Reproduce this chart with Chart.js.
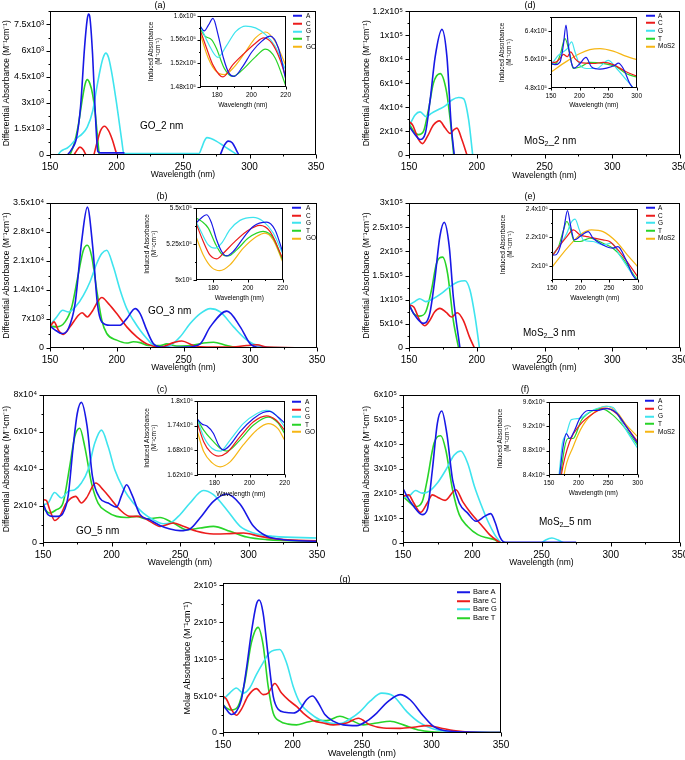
<!DOCTYPE html>
<html>
<head>
<meta charset="utf-8">
<script src="https://cdn.jsdelivr.net/npm/chart.js@4.4.1/dist/chart.umd.min.js"></script>
<style>
  html, body { margin: 0; padding: 0; width: 685px; height: 760px; overflow: hidden; background: #fff;
    font-family: "Liberation Sans", Arial, sans-serif; color: #000; }
  canvas { position: absolute; }
  .ttl { position: absolute; font-size: 9px; transform: translate(-50%, -50%); white-space: nowrap; }
  .smp { position: absolute; font-size: 10px; transform: translateY(-50%); white-space: nowrap; }
  .smp sub { font-size: 7px; vertical-align: -2px; }
  .lg { position: absolute; white-space: nowrap; line-height: 1; transform: translateY(-50%); }
  .lg i { display: inline-block; height: 2px; vertical-align: middle; }
</style>
</head>
<body>
<script>
// ---- series names / colours ----
const goNames = ['A', 'C', 'G', 'T', 'GO'];
const mosNames = ['A', 'C', 'G', 'T', 'MoS2'];
const bareNames = ['Bare A', 'Bare C', 'Bare G', 'Bare T'];
const BLUE = '#1818e6', RED = '#ec1c1c', CYAN = '#3ee4ee', GREEN = '#28d428', GOLD = '#f6b614';
const colors = [BLUE, RED, CYAN, GREEN, GOLD];

// ---- tick labels ----
const xMain = [150, 200, 250, 300, 350];
const xMainLabels = ['150', '200', '250', '300', '350'];
const xGoInset = [180, 200, 220];
const xGoInsetLabels = ['180', '200', '220'];
const xMosInset = [150, 200, 250, 300];
const xMosInsetLabels = ['150', '200', '250', '300'];

const aY = [0, 1.5, 3, 4.5, 6, 7.5];
const aYLabels = ['0', '1.5x10³', '3x10³', '4.5x10³', '6x10³', '7.5x10³'];
const bY = [0, 7, 14, 21, 28, 35];
const bYLabels = ['0', '7x10³', '1.4x10⁴', '2.1x10⁴', '2.8x10⁴', '3.5x10⁴'];
const cY = [0, 2, 4, 6, 8];
const cYLabels = ['0', '2x10⁴', '4x10⁴', '6x10⁴', '8x10⁴'];
const dY = [0, 2, 4, 6, 8, 10, 12];
const dYLabels = ['0', '2x10⁴', '4x10⁴', '6x10⁴', '8x10⁴', '1x10⁵', '1.2x10⁵'];
const eY = [0, 5, 10, 15, 20, 25, 30];
const eYLabels = ['0', '5x10⁴', '1x10⁵', '1.5x10⁵', '2x10⁵', '2.5x10⁵', '3x10⁵'];
const fY = [0, 10, 20, 30, 40, 50, 60];
const fYLabels = ['0', '1x10⁵', '2x10⁵', '3x10⁵', '4x10⁵', '5x10⁵', '6x10⁵'];
const gY = [0, 5, 10, 15, 20];
const gYLabels = ['0', '5x10⁴', '1x10⁵', '2x10⁵', '2x10⁵'];

const aiY = [1.48, 1.52, 1.56, 1.6];
const aiYLabels = ['1.48x10⁵', '1.52x10⁵', '1.56x10⁵', '1.6x10⁵'];
const biY = [5, 5.25, 5.5];
const biYLabels = ['5x10⁵', '5.25x10⁵', '5.5x10⁵'];
const ciY = [1.62, 1.68, 1.74, 1.8];
const ciYLabels = ['1.62x10⁶', '1.68x10⁶', '1.74x10⁶', '1.8x10⁶'];
const diY = [4.8, 5.6, 6.4];
const diYLabels = ['4.8x10⁵', '5.6x10⁵', '6.4x10⁵'];
const eiY = [2, 2.2, 2.4];
const eiYLabels = ['2x10⁶', '2.2x10⁶', '2.4x10⁶'];
const fiY = [8.4, 8.8, 9.2, 9.6];
const fiYLabels = ['8.4x10⁶', '8.8x10⁶', '9.2x10⁶', '9.6x10⁶'];

// ---- (a) GO_2 nm, [wavelength, value x10^3] ----
const aA = [[163,0],[166,0.3],[170,1.0],[173,2.8],[176,6.2],[178,7.8],[179,8.1],[180,7.9],[182,5.8],[184,2.5],[186,0.2],[188,0.12],[206,0.12],[207,null],[278,0],[281,0.55],[284,0.8],[287,0.7],[290,0.3],[292,0]];
const aC = [[168,0],[170,0.25],[172.5,0.45],[175,0.3],[177,0],[178,null],[183,0],[186,0.9],[188,1.4],[191,1.65],[194,1.4],[197,0.85],[200,0.1],[201,0]];
const aG = [[156,0],[158,0.2],[160,0.3],[163,0.4],[166,0.6],[170,0.95],[174,1.2],[178,1.6],[182,2.5],[185,3.8],[188,5.0],[190,5.6],[192,5.85],[194,5.6],[196,4.9],[198,4.0],[200,3.0],[202,1.9],[204,0.8],[205.5,0.08],[262,0.08],[264,0.4],[266,0.8],[268,1.0],[271,0.95],[275,0.8],[280,0.55],[285,0.3],[290,0.05],[291,0]];
const aT = [[165,0],[168,0.6],[171,1.6],[174.5,3.3],[176.5,4.1],[178,4.33],[180,4.1],[182,3.5],[184,2.4],[186,0.8],[187,0]];
// inset x10^5
const aiA = [[170,1.583],[172.5,1.575],[175,1.585],[177.6,1.596],[180.5,1.569],[183.7,1.529],[187,1.503],[190,1.498],[194.8,1.514],[200.5,1.540],[206.3,1.558],[211,1.566],[215.8,1.546],[220,1.494]];
const aiC = [[170,1.577],[173.8,1.546],[177.6,1.517],[183.4,1.497],[189,1.517],[194.8,1.534],[202.4,1.554],[207.2,1.563],[212,1.554],[216.8,1.526],[220,1.497]];
const aiG = [[170,1.585],[174.8,1.554],[180.5,1.530],[185.3,1.549],[191,1.574],[196.7,1.583],[202.4,1.580],[208.2,1.569],[213.9,1.549],[220,1.509]];
const aiT = [[170,1.579],[172.9,1.566],[176.7,1.560],[179.5,1.546],[184.3,1.511],[189,1.498],[194.8,1.509],[202.4,1.531],[208.2,1.544],[213.9,1.529],[220,1.483]];
const aiGO = [[170,1.571],[174.8,1.529],[178.6,1.509],[184.3,1.501],[190,1.514],[196.7,1.540],[202.4,1.563],[208.2,1.573],[213.9,1.557],[220,1.517]];

// ---- (b) GO_3 nm, x10^3 ----
const bA = [[150,5.3],[155,4.1],[158.8,3.5],[163.8,4.7],[168.8,10.7],[173.8,26],[178,34],[182,24.4],[185.5,10.7],[188.8,6.3],[195,5.5],[202.5,5.5],[207.5,7.1],[213.8,9.5],[217.5,8.3],[222.5,4.3],[227.5,1.0],[232.5,0.2],[242.5,0.1],[252.5,0.2],[262.5,1.0],[270,5.1],[282.5,8.9],[292.5,5.1],[300,1.0],[307.5,0.1],[350,0]];
const bC = [[150,5.1],[153,6.3],[156.3,4.3],[160,3.3],[165,5.1],[171.3,7.9],[174,8.5],[178,7.5],[181.3,8.7],[188.8,12.2],[193.8,10.7],[200,8.3],[207.5,5.1],[215,2.7],[222.5,1.0],[232.5,0.2],[242.5,1.3],[248.8,1.7],[257.5,0.6],[267.5,0.2],[282.5,0.2],[297.5,0.6],[305,0.8],[312.5,0.2],[350,0]];
const bG = [[150,5.5],[155,7.5],[159.5,9.1],[163.8,8.7],[170,10.3],[175,12.7],[180,16],[185,20.4],[188.8,22.8],[192.5,23.6],[197.5,19.6],[202.5,14],[207.5,9.5],[212.5,6.7],[217.5,4.3],[222.5,2.3],[227.5,0.6],[232.5,0.2],[240,0.6],[247.5,2.7],[255,5.9],[262.5,8.3],[270,9.5],[277.5,8.7],[287.5,5.1],[297.5,1.9],[307.5,0.4],[320,0.1],[350,0]];
const bT = [[150,5.3],[155,5.1],[161.3,6.3],[166.3,9.9],[171.3,18],[175,23.6],[178,24.8],[181.3,22],[185,14],[188.8,6.7],[192.5,3.5],[200,1.9],[207.5,1.2],[212.5,1.5],[217.5,1.3],[223.8,0.6],[232.5,0.6],[237.5,1.0],[245,0.5],[255,0.6],[265,1.2],[272.5,1.4],[282.5,0.6],[292.5,0.1],[350,0]];
// inset x10^5
const biA = [[170,5.395],[172.3,5.423],[176.2,5.453],[179,5.395],[181.9,5.279],[184.8,5.198],[187.7,5.167],[191.5,5.198],[197.3,5.291],[203,5.372],[210.8,5.402],[215.6,5.349],[220,5.198]];
const biC = [[170,5.395],[174.2,5.267],[178,5.174],[181.9,5.147],[185.8,5.186],[191.5,5.256],[199.2,5.337],[206.9,5.379],[212.7,5.337],[220,5.151]];
const biG = [[170,5.407],[173.3,5.326],[177.1,5.244],[181,5.221],[184.8,5.256],[189.6,5.349],[195.4,5.414],[203,5.435],[208.8,5.407],[214.6,5.326],[220,5.186]];
const biT = [[170,5.430],[173.3,5.407],[177.1,5.360],[181,5.256],[184.8,5.181],[188.7,5.167],[193.5,5.209],[200.2,5.291],[208.8,5.337],[214.6,5.291],[220,5.14]];
const biGO = [[170,5.302],[174.2,5.174],[179,5.088],[183.8,5.065],[189.6,5.105],[197.3,5.221],[205,5.302],[209.8,5.326],[214.6,5.279],[220,5.128]];

// ---- (c) GO_5 nm, x10^4 ----
const cA = [[150,2.16],[153.7,1.53],[157.3,1.44],[161,1.44],[164.6,1.62],[168.3,2.52],[172,5.2],[175,7.0],[178,7.6],[182.2,6.3],[186.1,3.6],[191.5,2.43],[197.6,2.16],[203.7,1.94],[207.5,2.6],[211,3.15],[215,2.6],[220.7,1.55],[228,1.25],[235.4,0.95],[242.7,0.76],[250,0.67],[257.3,0.76],[264.6,1.35],[274.4,2.25],[284,2.65],[293.9,2.1],[303.7,0.9],[313.4,0.36],[325.6,0.18],[350,0.09]];
const cC = [[150,2.34],[152.4,2.3],[154.9,1.8],[158.5,1.22],[162.2,1.44],[167.1,2.16],[173.9,2.52],[178,2.16],[181.7,2.43],[188.5,3.24],[193.9,2.88],[200,2.34],[206.1,1.8],[213.4,1.44],[220.7,1.44],[228,1.17],[235.4,0.9],[245.1,1.08],[252.4,0.9],[262.2,0.63],[274.4,0.49],[284.1,0.5],[296.3,0.54],[308.5,0.36],[325.6,0.18],[350,0.12]];
const cG = [[150,2.07],[153.7,2.16],[158.5,2.73],[163.4,2.43],[168.3,2.79],[173.2,2.88],[178,3.24],[182.9,3.96],[187.8,5.4],[192.7,6.1],[197.6,5.2],[202.4,3.96],[208.5,2.97],[215.9,2.16],[223.2,1.62],[230.5,1.26],[237.8,1.04],[242.7,1.08],[250,1.53],[257.3,2.16],[267.1,2.84],[274.4,2.61],[284.1,1.8],[293.9,0.9],[303.7,0.54],[318.3,0.36],[350,0.27]];
const cT = [[150,1.89],[154.9,1.62],[159.8,1.8],[164.6,2.16],[169.5,4.14],[173.2,5.76],[176.8,6.2],[180.5,5.2],[185.4,3.24],[190.2,2.16],[196.3,1.71],[203.7,1.44],[211,1.38],[218.3,1.44],[225.6,1.3],[235.4,1.38],[245.1,1.08],[254.9,0.72],[264.6,0.81],[274.4,0.9],[286.6,0.63],[298.8,0.32],[313.4,0.18],[350,0.09]];
// inset x10^6
const ciA = [[170,1.757],[172.8,1.744],[175.7,1.739],[179.4,1.721],[182.3,1.693],[185.1,1.681],[188.9,1.693],[194.5,1.725],[202.1,1.757],[207.7,1.772],[211.5,1.775],[216.2,1.761],[220,1.747]];
const ciC = [[170,1.749],[173.8,1.701],[177.5,1.677],[182.3,1.666],[187,1.674],[194.5,1.713],[202.1,1.749],[209.6,1.764],[215.3,1.753],[220,1.729]];
const ciG = [[170,1.757],[173.8,1.713],[178.5,1.685],[183.2,1.678],[188.9,1.705],[196.4,1.745],[204,1.769],[209.6,1.777],[215.3,1.765],[220,1.737]];
const ciT = [[170,1.757],[173.8,1.729],[179.4,1.701],[183.2,1.685],[187,1.678],[194.5,1.705],[202.1,1.741],[210.6,1.761],[216.2,1.747],[220,1.721]];
const ciGO = [[170,1.729],[173.8,1.677],[178.5,1.65],[183.2,1.64],[188.9,1.652],[196.4,1.693],[204,1.729],[210.6,1.745],[216.2,1.733],[220,1.705]];

// ---- (d) MoS2_2 nm, x10^4 ----
const dA = [[150,2.4],[154.5,1.7],[158.2,1.3],[162,1.8],[165.6,4.6],[169.3,8.2],[174.3,10.5],[178,8.2],[181.2,2.4],[183.4,0]];
const dC = [[150,2.8],[152.7,2.5],[157,1.3],[160,0.95],[163.6,1.55],[168,2.5],[172.5,2.85],[176.7,2.25],[180.4,1.8],[183,2.1],[185.4,2.25],[189,1.3],[192.8,0]];
const dG = [[150,2.4],[154.5,3.35],[158.2,3.6],[162.6,3.2],[166.8,3.5],[171.8,3.8],[176.7,4.1],[181.7,4.6],[186.6,4.8],[190.3,4.7],[194,2.95],[197,0]];
const dT = [[150,2.65],[153.7,1.95],[157,1.7],[160.6,1.95],[164.4,3.8],[168,6.0],[173,6.8],[177.5,5.4],[180.4,2.95],[183,0]];
// inset x10^5
const diA = [[150,5.49],[157,5.46],[165.8,5.53],[171.6,6.0],[176.3,6.57],[180.4,6.0],[186.2,5.49],[190.9,5.36],[200.8,5.49],[211.3,5.66],[221.2,5.39],[235.8,5.33],[247.5,5.36],[262,5.44],[268,5.5],[276.7,5.35],[288.4,4.92],[300,4.7]];
const diC = [[150,5.53],[157,5.52],[165.8,5.63],[171.6,5.75],[178.6,5.68],[184.4,5.82],[192,5.63],[200.8,5.52],[224,5.49],[241.7,5.52],[259,5.46],[282.5,5.25],[300,5.14]];
const diG = [[150,5.44],[162.8,5.72],[171.6,5.82],[178.6,5.91],[186.2,6.1],[192,5.82],[200.8,5.44],[212.5,5.35],[230,5.35],[250.4,5.58],[265,5.35],[282.5,5.02],[300,4.7]];
const diT = [[150,5.46],[158.8,5.49],[165.8,5.72],[174.5,6.19],[182,5.82],[189,5.35],[200.8,5.39],[218,5.52],[241.7,5.49],[265,5.39],[282.5,5.2],[300,5.11]];
const diM = [[150,5.25],[177.4,5.55],[200.8,5.77],[218,5.88],[235.8,5.91],[259,5.84],[282.5,5.69],[300,5.6]];

// ---- (e) MoS2_3 nm, x10^4 ----
const eA = [[150,8.9],[154.2,6.8],[160.4,5.1],[165.3,7.1],[169,14.1],[172.8,23.1],[176,26],[179.7,21],[182.7,10.6],[187.6,0]];
const eC = [[150,8.9],[153.5,8.5],[157.9,5.7],[161.6,4.6],[165.3,5.7],[169,7.5],[172.8,8.2],[177.7,7.3],[181.4,6.4],[185.6,7.3],[190.1,5.7],[194.6,2.3],[198.3,0]];
const eG = [[150,8.9],[154.2,9.6],[157.9,10.2],[162.4,9.6],[167.8,10.2],[174,11.3],[180.2,12.7],[186.4,13.7],[191.3,13.9],[195,12],[198.8,6.4],[202,0]];
const eT = [[150,9.1],[153.5,7.1],[157.9,6.6],[162.4,7.5],[166.6,12],[170.3,17.5],[174.8,18.8],[178.5,15.4],[182.7,5.7],[186.6,0]];
// inset x10^6
const eiA = [[150,2.076],[155.8,2.076],[164.4,2.135],[171.4,2.276],[177.1,2.389],[182.9,2.276],[189.2,2.182],[199,2.206],[213.5,2.241],[222.1,2.194],[239.4,2.147],[256.8,2.124],[265.4,2.135],[279.8,2.041],[291.4,1.935],[300,1.89]];
const eiC = [[150,2.069],[164.4,2.147],[176,2.206],[187.5,2.253],[199,2.218],[216.4,2.201],[239.4,2.182],[251,2.171],[268.3,2.1],[285.6,2.006],[300,1.924]];
const eiG = [[150,2.076],[164.4,2.147],[176,2.229],[182.9,2.3],[190.4,2.328],[197.9,2.253],[204.8,2.182],[222.1,2.171],[239.4,2.147],[253.9,2.159],[268.3,2.076],[285.6,1.971],[300,1.89]];
const eiT = [[150,2.069],[161.5,2.135],[170.2,2.253],[176,2.312],[181.7,2.265],[189.2,2.171],[199,2.171],[216.4,2.194],[239.4,2.159],[256.8,2.124],[274.1,2.053],[291.4,1.947],[300,1.9]];
const eiM = [[150,1.989],[164.4,2.065],[181.7,2.147],[199,2.218],[219.2,2.253],[239.4,2.241],[262.5,2.171],[279.8,2.088],[300,1.994]];

// ---- (f) MoS2_5 nm, x10^4 ----
const fA = [[150,22.2],[152.9,18.9],[157.8,14.8],[163.9,11.5],[167.5,13.5],[171.2,29.6],[174.8,48.5],[178,53.5],[181.6,44.5],[185.8,25.6],[190.6,16.2],[196.7,12.1],[202.8,8.8],[208.9,10.8],[213.3,11.9],[216.7,8.1],[219.8,2.7],[223,0.4],[226,0.25],[275,0.25]];
const fC = [[150,18.9],[154.1,19.5],[157.8,16.2],[162.7,12.4],[167.5,16.2],[171.2,19.5],[176,18.2],[180.4,17.3],[188.2,21.6],[193.1,16.8],[199.1,12.1],[206.4,7.4],[212.5,3.4],[218.6,0.7],[221,0]];
const fG = [[150,18.2],[155.4,19.5],[159,21.3],[163.9,20.2],[168.7,20.9],[174.8,24.3],[180.9,29.6],[187,35.7],[191.8,37.3],[196.7,32.3],[201.6,22.9],[206.4,15.5],[211.3,8.8],[216.2,3.4],[220.6,0],[221,null],[250,0],[253,1.2],[257.5,2.0],[262,1.2],[266,0]];
const fT = [[150,18.9],[154.1,16.8],[159,14.8],[163.9,16.8],[167.5,25.6],[172.4,40.4],[177.3,43.5],[180.9,37.7],[185.8,21.6],[190.6,11.5],[196.7,6.7],[204,3.4],[211.3,2.0],[216.2,1.35],[219.8,0]];
// inset x10^6
const fiA = [[163,8.0],[168.1,8.4],[173.8,8.86],[179.4,9.08],[185.1,9.0],[193.6,9.14],[202.1,9.33],[216.2,9.46],[230.4,9.46],[247.3,9.49],[264.3,9.42],[281.3,9.19],[300,8.92]];
const fiC = [[166,8.0],[170.9,8.4],[185.1,8.95],[202.1,9.22],[224.7,9.41],[244.5,9.5],[264.3,9.41],[281.3,9.19],[300,8.95]];
const fiG = [[162,8.0],[167,8.4],[172.6,8.92],[179.4,9.08],[187.9,9.31],[202.1,9.33],[219,9.44],[247.3,9.53],[258.7,9.51],[275.6,9.22],[300,8.84]];
const fiT = [[165,8.0],[169.8,8.4],[176.6,8.86],[182.3,9.0],[190.7,9.0],[204.9,9.3],[224.7,9.46],[238.9,9.49],[258.7,9.38],[281.3,9.14],[300,8.89]];
const fiM = [[171,8.0],[175.5,8.4],[190.7,8.86],[207.7,9.22],[230.4,9.46],[247.3,9.53],[264.3,9.44],[281.3,9.22],[300,9.03]];

// ---- (g) bare bases, x10^4 ----
const gA = [[150,3.85],[152.4,3.2],[156,2.5],[159.6,2.9],[163.2,4.5],[166.8,8.6],[170.4,13.6],[174,17.4],[176,18.0],[178.8,16.3],[182.5,10.4],[186.1,5.0],[189.7,3.2],[194.5,2.8],[200.5,2.7],[205.3,3.2],[210.1,4.5],[214.4,5.0],[218.5,4.1],[223.3,2.5],[229.3,1.6],[236.5,1.1],[246.2,1.0],[253.4,1.6],[260.6,2.7],[267.8,4.1],[277.4,5.2],[284.6,4.5],[294.2,2.3],[301.4,0.9],[313.5,0.23],[350,0.05]];
const gC = [[150,5.0],[152.4,4.6],[156,3.2],[159.6,2.4],[163.2,3.2],[168,5.0],[174,6.0],[178.8,5.2],[182.5,5.4],[187.3,6.7],[192.1,5.4],[198.1,4.3],[202.9,3.6],[207.7,2.7],[214.9,1.7],[222.1,1.36],[229.3,1.1],[238.9,1.36],[247.4,2.0],[255.8,1.1],[265.4,0.68],[277.4,0.63],[287,0.77],[296.6,1.0],[306.3,0.68],[315.9,0.32],[327.9,0.1],[350,0.05]];
const gG = [[150,4.5],[154.8,5.4],[159.6,6.1],[164.4,5.4],[169.2,6.1],[174,7.9],[178.8,9.5],[183.7,10.9],[190.9,11.3],[195.7,9.5],[200.5,6.3],[205.3,4.1],[212.5,2.7],[219.7,1.8],[226.9,1.36],[234.1,1.27],[241.3,1.9],[248.6,2.9],[255.8,4.3],[264.2,5.4],[272.6,5.0],[282.2,2.9],[291.8,1.36],[301.4,0.54],[315.9,0.18],[350,0.1]];
const gT = [[150,3.85],[152.4,3.4],[156,3.1],[160.8,3.6],[165.6,6.8],[170.4,12.2],[175.2,14.3],[178.8,12.0],[182.5,6.3],[186.1,2.7],[190.9,1.6],[196.9,1.2],[202.9,1.1],[210.1,1.45],[217.3,1.7],[224.5,1.67],[234.1,2.26],[241.3,1.8],[251,1.1],[260.6,1.36],[270.2,1.6],[279.8,1.1],[291.8,0.36],[306.3,0.1],[350,0.05]];

Chart.defaults.font.family = '"Liberation Sans", Arial, sans-serif';
Chart.defaults.color = '#000';

const DIFF_TITLE = 'Differential Absorbance (M⁻¹cm⁻¹)';
const IND_TITLE = ['Induced Absorbance', '(M⁻¹cm⁻¹)'];

// box round the plot area, plus outward ticks (minor ones half length)
const frame = {
  id: 'frame',
  afterDatasetsDraw(chart) {
    const { ctx, chartArea: a } = chart;
    ctx.save();
    ctx.strokeStyle = '#000';
    ctx.lineWidth = 1;
    ctx.strokeRect(Math.round(a.left) + 0.5, Math.round(a.top) + 0.5,
      Math.round(a.right - a.left) - 1, Math.round(a.bottom - a.top) - 1);
    ['x', 'y'].forEach(id => {
      const s = chart.scales[id];
      const len = s.options.tickMark;
      s.ticks.forEach(t => {
        const major = s.options.ticks.callback(t.value) !== '';
        const L = major ? len : len / 2;
        const p = Math.round(s.getPixelForValue(t.value)) + 0.5;
        ctx.beginPath();
        if (id === 'x') {
          const b = Math.round(a.bottom) - 0.5;
          ctx.moveTo(p, b); ctx.lineTo(p, b + L);
        } else {
          const l = Math.round(a.left) + 0.5;
          ctx.moveTo(l - L, p); ctx.lineTo(l, p);
        }
        ctx.stroke();
      });
    });
    ctx.restore();
  }
};

function labelFor(majors, labels) {
  return v => {
    const i = majors.findIndex(m => Math.abs(m - v) < 1e-6);
    return i < 0 ? '' : labels[i];
  };
}

function axis(a, horizontal, small, fit) {
  const mark = small ? 3 : 4;
  return {
    type: 'linear', min: a.min, max: a.max,
    tickMark: mark,
    afterFit: s => { if (horizontal) s.height = fit; else s.width = fit; },
    ticks: {
      stepSize: a.step, autoSkip: false, maxRotation: 0, includeBounds: false,
      padding: mark + (small ? 1 : 2), color: '#000',
      font: { size: small ? 6.5 : (horizontal ? 10 : 9) },
      callback: labelFor(a.majors, a.labels)
    },
    grid: { display: false, drawTicks: false, tickLength: 0 },
    border: { display: false },
    title: {
      display: true, text: a.title, color: '#000',
      font: { size: small ? 6.5 : (a.tsize || 8.5) },
      padding: horizontal ? { top: 0, bottom: 0 } : { top: small ? 1 : 2, bottom: 0 }
    }
  };
}

function panel(p) {
  const cv = document.createElement('canvas');
  cv.width = p.box[2];
  cv.height = p.box[3];
  cv.style.left = p.box[0] + 'px';
  cv.style.top = p.box[1] + 'px';
  document.body.appendChild(cv);
  new Chart(cv, {
    type: 'line',
    data: {
      datasets: p.series.map((s, i) => ({
        label: p.names[i],
        data: s.map(q => ({ x: q[0], y: q[1] })),
        borderColor: colors[i],
        borderWidth: p.small ? 1.2 : 1.6,
        pointRadius: 0,
        fill: false,
        spanGaps: false,
        cubicInterpolationMode: 'monotone'
      }))
    },
    options: {
      responsive: false, animation: false, devicePixelRatio: 1, events: [],
      layout: { padding: { top: p.pad[0], right: p.pad[1], left: p.pad[2], bottom: 0 } },
      plugins: { legend: { display: false }, tooltip: { enabled: false } },
      scales: { x: axis(p.x, true, p.small, p.xH), y: axis(p.y, false, p.small, p.yW) }
    },
    plugins: [frame]
  });
}

function legend(x, y, dy, names, size, len, gap) {
  names.forEach((n, i) => {
    const d = document.createElement('div');
    d.className = 'lg';
    d.style.left = x + 'px';
    d.style.top = (y + i * dy) + 'px';
    d.style.fontSize = size + 'px';
    d.innerHTML = '<i style="width:' + len + 'px;background:' + colors[i] + ';margin-right:' + gap + 'px"></i>' + n;
    document.body.appendChild(d);
  });
}

function text(cls, x, y, html) {
  const d = document.createElement('div');
  d.className = cls;
  d.style.left = x + 'px';
  d.style.top = y + 'px';
  d.innerHTML = html;
  document.body.appendChild(d);
}

const xM = { min: 150, max: 350, step: 25, majors: xMain, labels: xMainLabels, title: 'Wavelength (nm)' };
const xGoI = { min: 170, max: 220, step: 10, majors: xGoInset, labels: xGoInsetLabels, title: 'Wavelength (nm)' };
const xMoI = { min: 150, max: 300, step: 25, majors: xMosInset, labels: xMosInsetLabels, title: 'Wavelength (nm)' };

// main panels
panel({ box: [0, 0, 340, 180], pad: [10, 24, 0], yW: 50, xH: 25, names: goNames, series: [aA, aC, aG, aT], x: xM,
  y: { min: 0, max: 8.25, step: 0.75, majors: aY, labels: aYLabels, title: DIFF_TITLE } });
panel({ box: [0, 180, 340, 193], pad: [23, 23, 0], yW: 50, xH: 25, names: goNames, series: [bA, bC, bG, bT], x: xM,
  y: { min: 0, max: 35, step: 3.5, majors: bY, labels: bYLabels, title: DIFF_TITLE } });
panel({ box: [0, 370, 340, 198], pad: [25, 23, 0], yW: 43, xH: 25, names: goNames, series: [cA, cC, cG, cT], x: xM,
  y: { min: 0, max: 8, step: 1, majors: cY, labels: cYLabels, title: DIFF_TITLE } });
panel({ box: [340, 0, 360, 181], pad: [10, 20, 20], yW: 49, xH: 26, names: mosNames, series: [dA, dC, dG, dT], x: xM,
  y: { min: 0, max: 12, step: 1, majors: dY, labels: dYLabels, title: DIFF_TITLE } });
panel({ box: [340, 180, 360, 193], pad: [23, 20, 20], yW: 49, xH: 25, names: mosNames, series: [eA, eC, eG, eT], x: xM,
  y: { min: 0, max: 30, step: 2.5, majors: eY, labels: eYLabels, title: DIFF_TITLE } });
panel({ box: [340, 370, 360, 198], pad: [25, 20, 20], yW: 43, xH: 25, names: mosNames, series: [fA, fC, fG, fT], x: xM,
  y: { min: 0, max: 60, step: 5, majors: fY, labels: fYLabels, title: DIFF_TITLE } });
panel({ box: [160, 560, 360, 199], pad: [23, 19, 20], yW: 43, xH: 26, names: bareNames, series: [gA, gC, gG, gT],
  x: Object.assign({}, xM, { tsize: 9 }),
  y: { min: 0, max: 20.3, step: 2.5, majors: gY, labels: gYLabels, title: 'Molar Absorbance (M⁻¹cm⁻¹)', tsize: 9 } });

// insets
panel({ small: true, box: [146, 6, 149, 103], pad: [10, 8, 0], yW: 54, xH: 22, names: goNames,
  series: [aiA, aiC, aiG, aiT, aiGO], x: xGoI,
  y: { min: 1.48, max: 1.6, step: 0.02, majors: aiY, labels: aiYLabels, title: IND_TITLE } });
panel({ small: true, box: [142, 198, 150, 104], pad: [10, 9, 0], yW: 54, xH: 22, names: goNames,
  series: [biA, biC, biG, biT, biGO], x: xGoI,
  y: { min: 5, max: 5.5, step: 0.125, majors: biY, labels: biYLabels, title: IND_TITLE } });
panel({ small: true, box: [142, 391, 152, 107], pad: [10, 9, 0], yW: 55, xH: 23, names: goNames,
  series: [ciA, ciC, ciG, ciT, ciGO], x: xGoI,
  y: { min: 1.62, max: 1.8, step: 0.03, majors: ciY, labels: ciYLabels, title: IND_TITLE } });
panel({ small: true, box: [497, 7, 149, 102], pad: [10, 9, 0], yW: 54, xH: 21, names: mosNames,
  series: [diA, diC, diG, diT, diM], x: xMoI,
  y: { min: 4.8, max: 6.8, step: 0.4, majors: diY, labels: diYLabels, title: IND_TITLE } });
panel({ small: true, box: [498, 199, 149, 103], pad: [10, 9, 0], yW: 54, xH: 22, names: mosNames,
  series: [eiA, eiC, eiG, eiT, eiM], x: xMoI,
  y: { min: 1.9, max: 2.4, step: 0.1, majors: eiY, labels: eiYLabels, title: IND_TITLE } });
panel({ small: true, box: [495, 392, 152, 105], pad: [10, 9, 0], yW: 54, xH: 22, names: mosNames,
  series: [fiA, fiC, fiG, fiT, fiM], x: xMoI,
  y: { min: 8.4, max: 9.6, step: 0.2, majors: fiY, labels: fiYLabels, title: IND_TITLE } });

// legends
legend(293, 16, 7.7, goNames, 6.5, 9, 4);
legend(292, 208, 7.6, goNames, 6.5, 9, 5);
legend(292, 402, 7.5, goNames, 6.5, 9, 4);
legend(646, 15.5, 7.7, mosNames, 6.5, 9, 3);
legend(646, 208, 7.6, mosNames, 6.5, 9, 3);
legend(645, 400.5, 7.9, mosNames, 6.5, 9, 4);
legend(457, 592, 8.5, bareNames, 7.5, 13, 3);

// panel letters and sample labels
text('ttl', 160, 5, '(a)');
text('ttl', 530, 5, '(d)');
text('ttl', 162, 196, '(b)');
text('ttl', 530, 196, '(e)');
text('ttl', 162, 389, '(c)');
text('ttl', 525, 389, '(f)');
text('ttl', 345, 579, '(g)');
text('smp', 140, 125, 'GO_2 nm');
text('smp', 524, 141, 'MoS<sub>2</sub>_2 nm');
text('smp', 148, 310, 'GO_3 nm');
text('smp', 523, 333, 'MoS<sub>2</sub>_3 nm');
text('smp', 76, 530, 'GO_5 nm');
text('smp', 539, 522, 'MoS<sub>2</sub>_5 nm');
</script>
</body>
</html>
